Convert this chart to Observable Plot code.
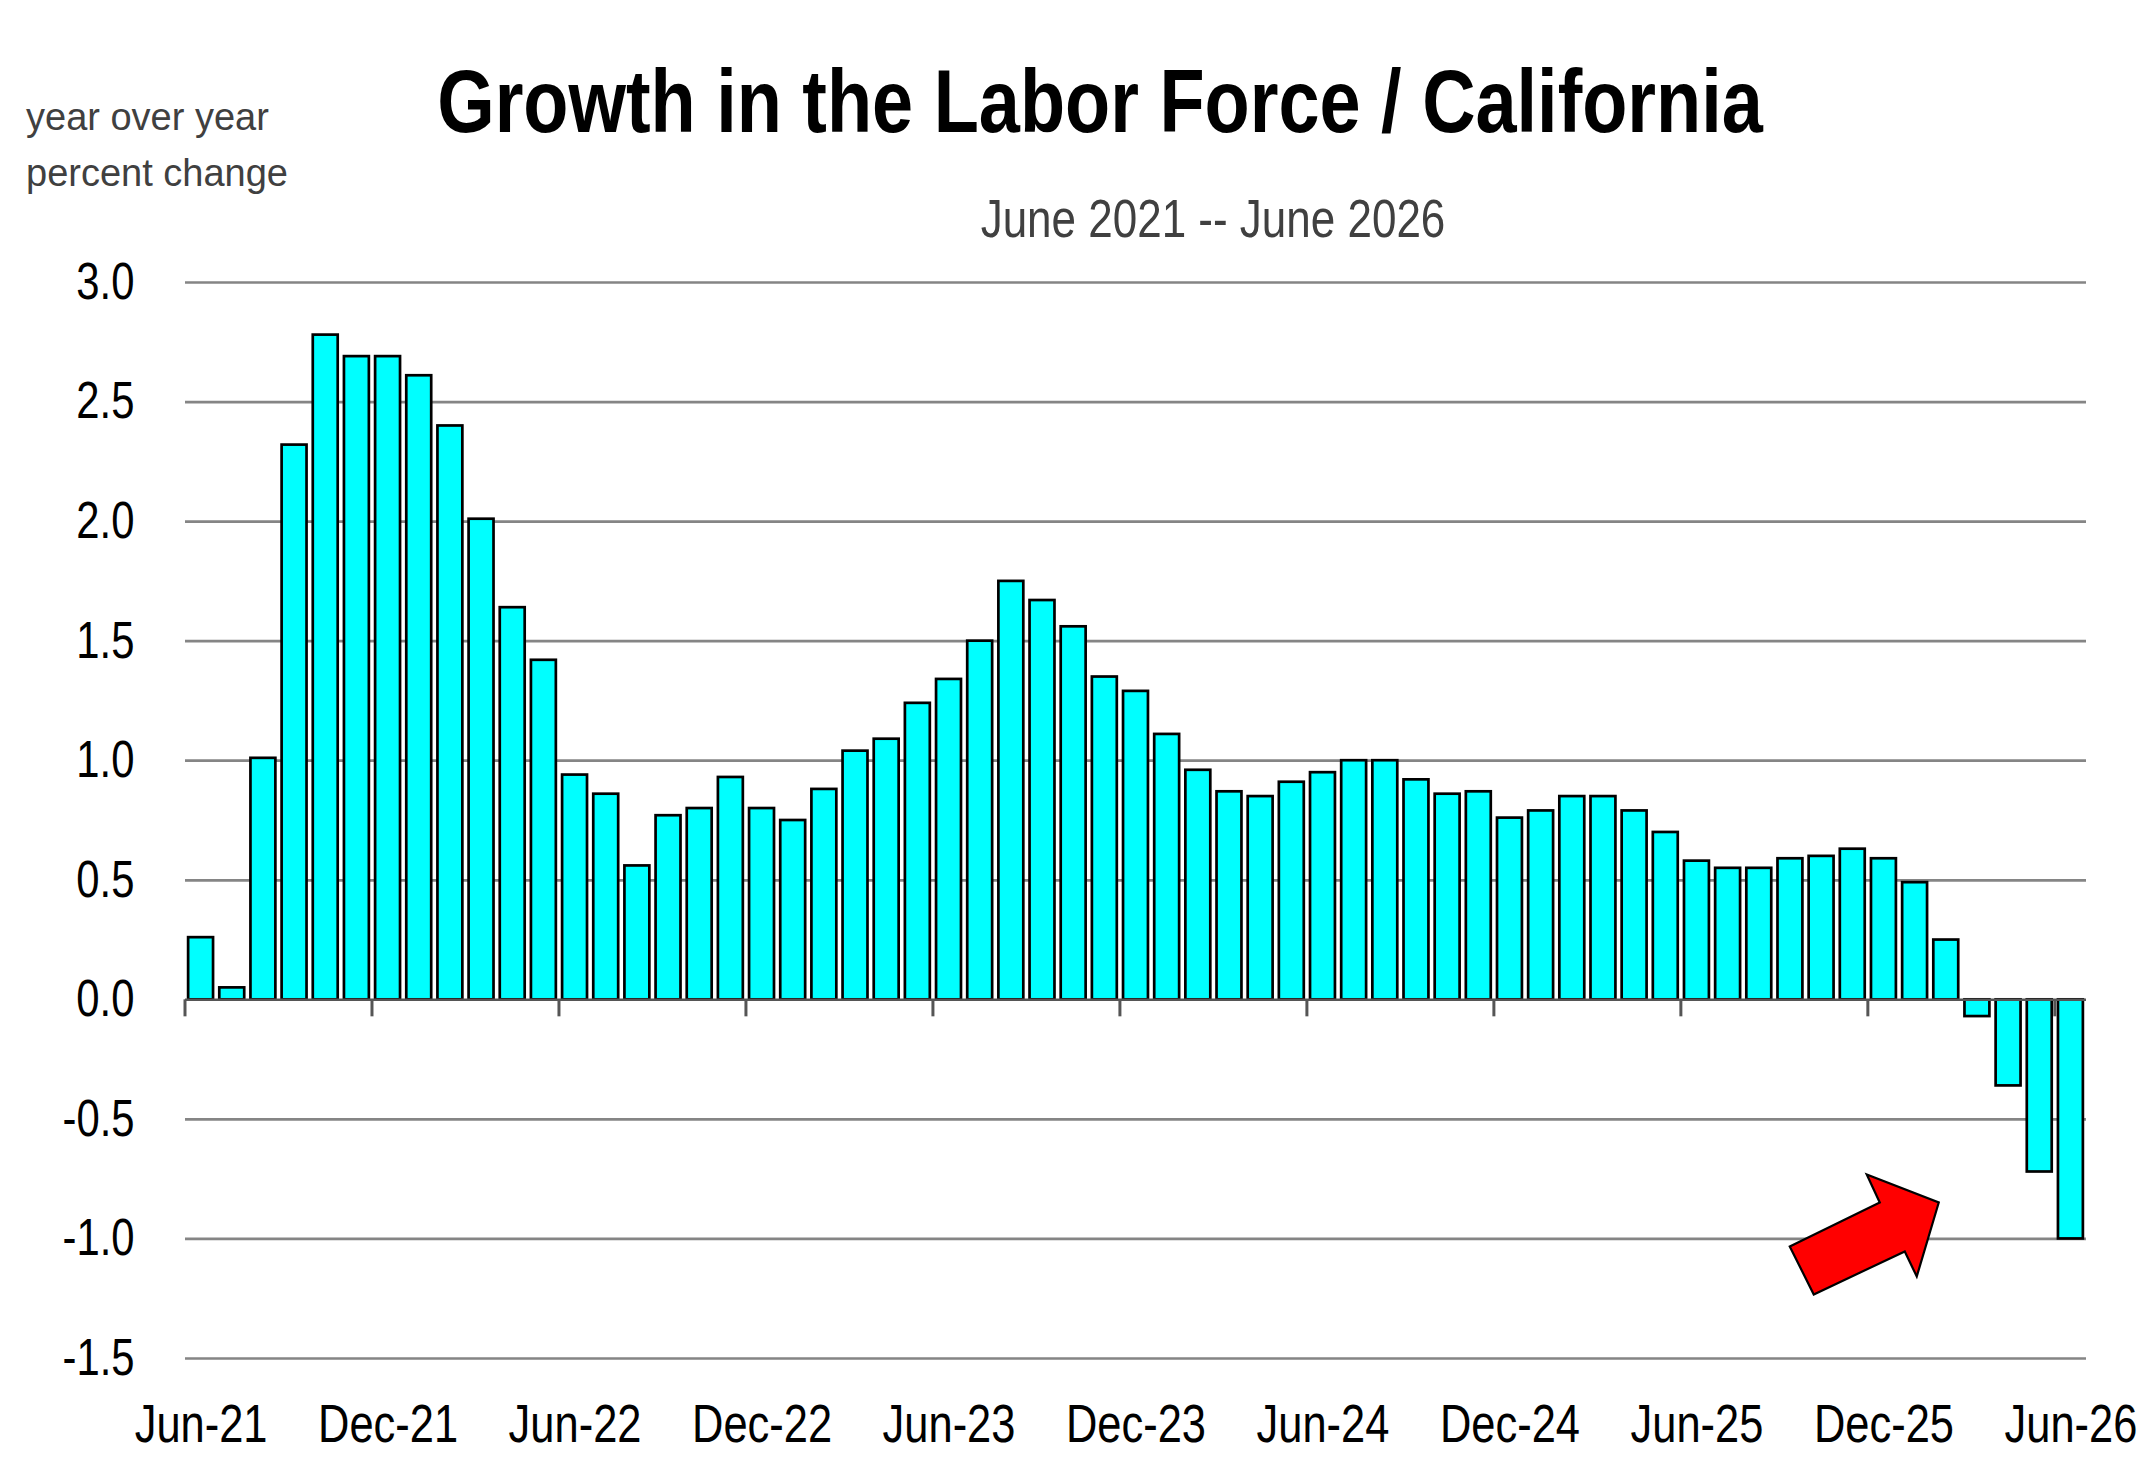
<!DOCTYPE html>
<html>
<head>
<meta charset="utf-8">
<script src="https://cdn.jsdelivr.net/npm/d3@7"></script>
<script src="https://cdn.jsdelivr.net/npm/@observablehq/plot@0.6"></script>
<style>
  html, body { margin: 0; padding: 0; background: #fff; }
  #wrap { position: relative; width: 2154px; height: 1470px; overflow: hidden; background: #fff; }
  .hdr { position: absolute; white-space: nowrap; line-height: 1; }
  #title { font-family: "Liberation Sans", Arial, sans-serif; font-weight: bold; font-size: 89px; color: #000; left: 1100px; top: 57px; transform: translateX(-50%) scaleX(0.83); }
  #subtitle { font-family: "Liberation Sans", Arial, sans-serif; font-size: 53px; color: #404040; left: 1213px; top: 192px; transform: translateX(-50%) scaleX(0.83); }
  #ylabel { font-family: "Liberation Sans", Arial, sans-serif; font-size: 38px; color: #404040; left: 26px; top: 89px; line-height: 56px; }
  #chart { position: absolute; left: 0; top: 250px; }
</style>
</head>
<body>
<div id="wrap">
  <div id="title" class="hdr">Growth in the Labor Force / California</div>
  <div id="subtitle" class="hdr">June 2021 -- June 2026</div>
  <div id="ylabel" class="hdr">year over year<br>percent change</div>
  <div id="chart"></div>
</div>
<script>
// Categories: months from Jun-21 to Jun-26
const months = [
  "Jun-21","Jul-21","Aug-21","Sep-21","Oct-21","Nov-21","Dec-21",
  "Jan-22","Feb-22","Mar-22","Apr-22","May-22","Jun-22","Jul-22","Aug-22","Sep-22","Oct-22","Nov-22","Dec-22",
  "Jan-23","Feb-23","Mar-23","Apr-23","May-23","Jun-23","Jul-23","Aug-23","Sep-23","Oct-23","Nov-23","Dec-23",
  "Jan-24","Feb-24","Mar-24","Apr-24","May-24","Jun-24","Jul-24","Aug-24","Sep-24","Oct-24","Nov-24","Dec-24",
  "Jan-25","Feb-25","Mar-25","Apr-25","May-25","Jun-25","Jul-25","Aug-25","Sep-25","Oct-25","Nov-25","Dec-25",
  "Jan-26","Feb-26","Mar-26","Apr-26","May-26","Jun-26"
];
// Year-over-year percent change in the labor force
const growth = [
  0.26, 0.05, 1.01, 2.32, 2.78, 2.69, 2.69,
  2.61, 2.40, 2.01, 1.64, 1.42, 0.94, 0.86, 0.56, 0.77, 0.80, 0.93, 0.80,
  0.75, 0.88, 1.04, 1.09, 1.24, 1.34, 1.50, 1.75, 1.67, 1.56, 1.35, 1.29,
  1.11, 0.96, 0.87, 0.85, 0.91, 0.95, 1.00, 1.00, 0.92, 0.86, 0.87, 0.76,
  0.79, 0.85, 0.85, 0.79, 0.70, 0.58, 0.55, 0.55, 0.59, 0.60, 0.63, 0.59,
  0.49, 0.25, -0.07, -0.36, -0.72, -1.00
];
const xTickLabels = ["Jun-21","Dec-21","Jun-22","Dec-22","Jun-23","Dec-23","Jun-24","Dec-24","Jun-25","Dec-25","Jun-26"];
const yTicks = [-1.5, -1.0, -0.5, 0.0, 0.5, 1.0, 1.5, 2.0, 2.5, 3.0];
const arrowMonth = "Feb-26";
const arrowValue = -1.0;

const data = months.map((m, i) => ({month: m, value: growth[i]}));

const W = 2154, H = 1220, ML = 185, MR = 68, MT = 32, MB = 112;
const NARROW = 0.82;

function stepOf(x) {
  return x.step ? x.step() : (W - ML - MR) / months.length;
}

// month-boundary tick marks hanging from the zero line
function zeroTicks(index, scales) {
  const x = scales.x, y = scales.y;
  const step = stepOf(x);
  const inner = x.paddingInner ? x.paddingInner() : 0.2;
  const g = d3.create("svg:g");
  const y0 = y(0);
  for (const m of xTickLabels) {
    const px = x(m) - inner * step / 2;
    g.append("line")
      .attr("x1", px).attr("x2", px)
      .attr("y1", y0).attr("y2", y0 + 17)
      .attr("stroke", "#555").attr("stroke-width", 3);
  }
  return g.node();
}

// red block arrow annotation
function redArrow(index, scales) {
  const x = scales.x, y = scales.y;
  const bw = x.bandwidth ? x.bandwidth() : stepOf(x) * 0.8;
  const cx = x(arrowMonth) + bw / 2, cy = y(arrowValue);
  const shape = [[-156, 8], [-66, -36], [-79, -64], [-7, -36], [-29, 38], [-41, 13], [-132, 56]];
  const pts = shape.map(([dx, dy]) => `${cx + dx},${cy + dy}`).join(" ");
  const g = d3.create("svg:g");
  g.append("polygon").attr("points", pts)
    .attr("fill", "#ff0000").attr("stroke", "#000").attr("stroke-width", 2.2).attr("stroke-linejoin", "miter");
  return g.node();
}

const chart = Plot.plot({
  width: W,
  height: H,
  marginLeft: ML,
  marginRight: MR,
  marginTop: MT,
  marginBottom: MB,
  style: {background: "#fff", overflow: "visible"},
  x: {domain: months, paddingInner: 0.2, paddingOuter: 0.1, align: 0.5, round: false},
  y: {domain: [-1.5, 3.0]},
  marks: [
    Plot.ruleY(yTicks.filter(v => v !== 0), {stroke: "#858585", strokeWidth: 2.7}),
    Plot.barY(data, {x: "month", y: "value", fill: "#00ffff", stroke: "#000", strokeWidth: 2.7}),
    Plot.ruleY([0], {stroke: "#555", strokeWidth: 2.5}),
    zeroTicks,
    redArrow,
    Plot.axisY(yTicks, {tickSize: 0, tickPadding: 51, fontSize: 51, fill: "#000",
      fontFamily: "Liberation Sans, Arial, sans-serif", tickFormat: d => d.toFixed(1), label: null}),
    Plot.axisX(xTickLabels, {tickSize: 0, tickPadding: 46, fontSize: 53, fill: "#000",
      fontFamily: "Liberation Sans, Arial, sans-serif", label: null})
  ]
});

// emulate the condensed (Arial Narrow) look of the axis labels
d3.select(chart).selectAll("text").each(function () {
  const t = d3.select(this);
  const ax = +(t.attr("x") || 0);
  const tr = t.attr("transform") || "";
  t.attr("transform", `${tr} translate(${ax},0) scale(${NARROW},1) translate(${-ax},0)`.trim());
});

document.getElementById("chart").appendChild(chart);
</script>
</body>
</html>
